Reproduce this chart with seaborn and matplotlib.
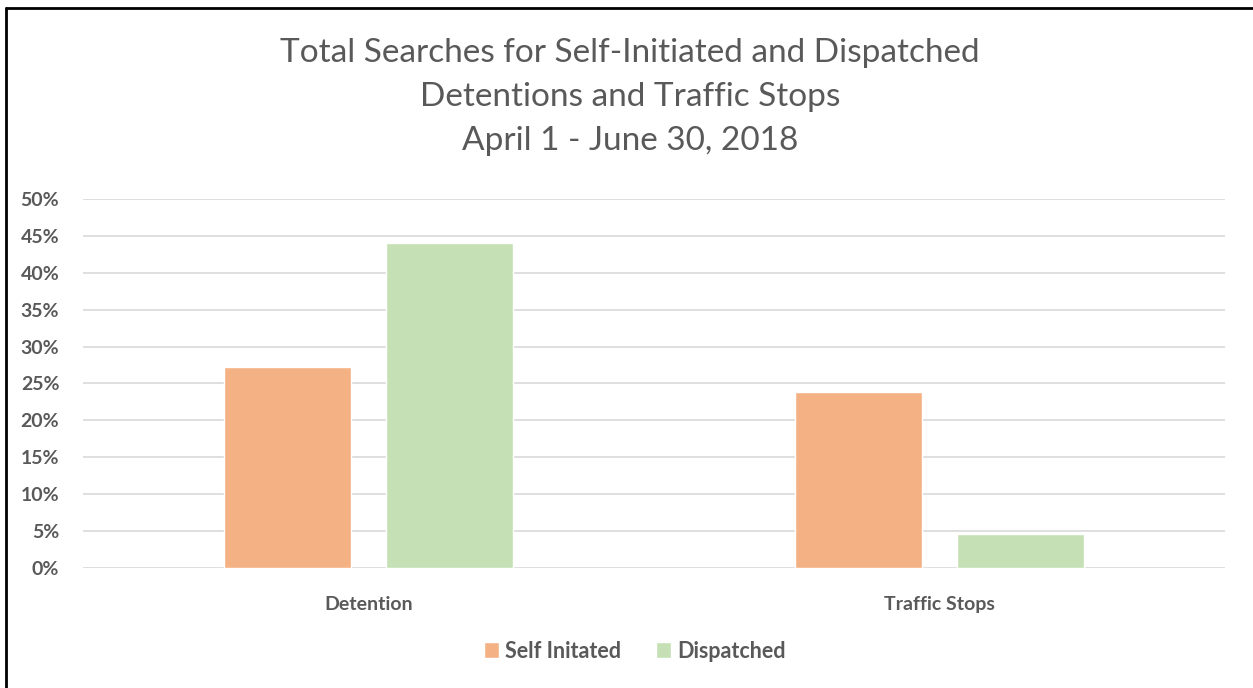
import pandas as pd
import matplotlib.pyplot as plt
import matplotlib.lines as mlines
from matplotlib.ticker import PercentFormatter
import seaborn as sns

# --- data ---
categories = ['Detention', 'Traffic Stops']
series = ['Self Initated', 'Dispatched']
self_initiated = [0.272, 0.239]
dispatched = [0.441, 0.046]

df = pd.DataFrame({
    'category': categories * 2,
    'series': [series[0]] * 2 + [series[1]] * 2,
    'value': self_initiated + dispatched,
})

sns.set_theme(style='white')
plt.rcParams['font.family'] = ['Lato', 'DejaVu Sans']

grey = '#595959'
palette = {series[0]: '#F4B183', series[1]: '#C5E0B4'}

fig = plt.figure(figsize=(12.53, 6.88), dpi=100)
ax = fig.add_axes([0.0662, 0.1744, 0.9115, 0.5364])

sns.barplot(data=df, x='category', y='value', hue='series', palette=palette,
            width=0.567, gap=0.217, saturation=1, ax=ax, zorder=3)

ax.set_ylim(0, 0.5)
ax.set_yticks([i * 0.05 for i in range(11)])
ax.yaxis.set_major_formatter(PercentFormatter(1.0, decimals=0))
ax.grid(axis='y', color='#d9d9d9', linewidth=1.2, zorder=0)
ax.set_axisbelow(True)
sns.despine(ax=ax, left=True, bottom=True, top=True, right=True)
ax.set_xlabel('')
ax.set_ylabel('')
ax.tick_params(axis='y', length=0, pad=17, labelsize=14, labelcolor=grey)
ax.tick_params(axis='x', length=0, pad=20, labelsize=14, labelcolor=grey)
for lbl in ax.get_yticklabels() + ax.get_xticklabels():
    lbl.set_fontweight('bold')

leg = ax.legend(loc='center', bbox_to_anchor=(0.483, -0.225), ncol=2,
                frameon=False, handlelength=0.7, handleheight=0.7,
                handletextpad=0.3, columnspacing=1.6, fontsize=15.5)
for t in leg.get_texts():
    t.set_color(grey)
    t.set_fontweight('bold')

fig.text(0.503, 0.859, 'Total Searches for Self-Initiated and Dispatched\n'
         'Detentions and Traffic Stops\nApril 1 - June 30, 2018',
         ha='center', va='center', fontsize=24, color=grey, linespacing=1.58)

# screenshot frame on top and left
fig.add_artist(mlines.Line2D([0.005, 1.0], [0.988, 0.988], color='black', linewidth=2))
fig.add_artist(mlines.Line2D([0.005, 0.005], [0.0, 0.988], color='black', linewidth=2))

fig.savefig('out.png', dpi=100, facecolor='white')
